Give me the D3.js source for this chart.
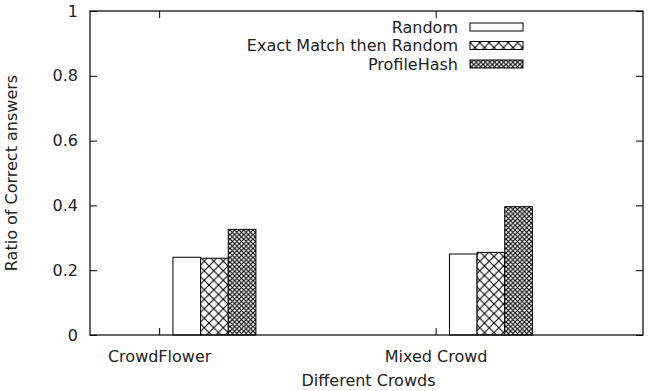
<!DOCTYPE html>
<html><head><meta charset="utf-8">
<script src="https://cdn.jsdelivr.net/npm/d3@7"></script>
<style>body{margin:0;background:#fff}svg{display:block}text{font-family:"DejaVu Sans",sans-serif;fill:#222}</style>
</head><body>
<script>
const categories = ["CrowdFlower", "Mixed Crowd"];
const seriesNames = ["Random", "Exact Match then Random", "ProfileHash"];
const randomVals = [0.240, 0.250];
const exactVals = [0.237, 0.255];
const profileVals = [0.326, 0.396];
const yTicks = [0, 0.2, 0.4, 0.6, 0.8, 1];
const yTickLabels = ["0", "0.2", "0.4", "0.6", "0.8", "1"];
const series = [randomVals, exactVals, profileVals];
const fills = ["#fff", "url(#p1)", "url(#p2)"];

const W = 656, H = 391;
const L = 90, R = 643, T = 11, B = 335;
const FS = 16;
const svg = d3.select("body").append("svg").attr("width", W).attr("height", H);
const defs = svg.append("defs");
// big crosshatch
const p1 = defs.append("pattern").attr("id","p1").attr("patternUnits","userSpaceOnUse").attr("width",9.5).attr("height",9.5);
p1.append("rect").attr("width",9.5).attr("height",9.5).attr("fill","#fff");
p1.append("path").attr("d","M0,0L9.5,9.5M9.5,0L0,9.5").attr("stroke","#000").attr("stroke-width",1.1);
// fine crosshatch
const p2 = defs.append("pattern").attr("id","p2").attr("patternUnits","userSpaceOnUse").attr("width",4.6).attr("height",4.6);
p2.append("rect").attr("width",4.6).attr("height",4.6).attr("fill","#fff");
p2.append("path").attr("d","M0,0L4.6,4.6M4.6,0L0,4.6").attr("stroke","#000").attr("stroke-width",1.1);

const x = d3.scaleLinear().domain([-0.25, 1.75]).range([L, R]);
const y = d3.scaleLinear().domain([0, 1]).range([B, T]);
const barW = 0.1;
const offs = [0.1, 0.2, 0.3];

// bars
series.forEach((vals, si) => {
  svg.append("g").selectAll("rect").data(vals).join("rect")
    .attr("x", (d, i) => x(i + offs[si] - barW/2))
    .attr("width", (d, i) => x(i + offs[si] + barW/2) - x(i + offs[si] - barW/2))
    .attr("y", d => y(d))
    .attr("height", d => B - y(d))
    .attr("fill", fills[si]).attr("stroke", "#000").attr("stroke-width", 1);
});

// axes
const tickLen = 7;
const yAxisL = d3.axisLeft(y).tickValues(yTicks).tickFormat((d,i)=>yTickLabels[i]).tickSizeInner(-tickLen).tickSizeOuter(0).tickPadding(12);
const yAxisR = d3.axisRight(y).tickValues(yTicks).tickFormat("").tickSizeInner(-tickLen).tickSizeOuter(0);
const xAxisB = d3.axisBottom(x).tickValues([0,1]).tickFormat((d,i)=>categories[i]).tickSizeInner(-tickLen).tickSizeOuter(0).tickPadding(16);
const xAxisT = d3.axisTop(x).tickValues([0,1]).tickFormat("").tickSizeInner(-tickLen).tickSizeOuter(0);
function style(g){ g.select(".domain").remove(); g.selectAll("line").attr("stroke","#000"); g.selectAll("text").attr("font-size",FS).attr("font-family","DejaVu Sans").attr("fill","#222"); }
svg.append("g").attr("transform",`translate(${L},0)`).call(yAxisL).call(style);
svg.append("g").attr("transform",`translate(${R},0)`).call(yAxisR).call(style);
svg.append("g").attr("transform",`translate(0,${B})`).call(xAxisB).call(style);
svg.append("g").attr("transform",`translate(0,${T})`).call(xAxisT).call(style);
svg.append("rect").attr("x",L).attr("y",T).attr("width",R-L).attr("height",B-T).attr("fill","none").attr("stroke","#000").attr("stroke-width",1.2);

// axis titles
svg.append("text").attr("x", (L+R)/2 + 2).attr("y", 386).attr("text-anchor","middle").attr("font-size",FS).text("Different Crowds");
svg.append("text").attr("transform","translate(17,173) rotate(-90)").attr("text-anchor","middle").attr("font-size",FS).text("Ratio of Correct answers");

// legend
const lg = svg.append("g");
seriesNames.forEach((n, i) => {
  const cy = 27 + i*18.5;
  lg.append("text").attr("x",458).attr("y",cy+5.5).attr("text-anchor","end").attr("font-size",FS).text(n);
  lg.append("rect").attr("x",470).attr("y",cy-4).attr("width",53).attr("height",8).attr("fill",fills[i]).attr("stroke","#000").attr("stroke-width",1);
});
</script>
</body></html>
